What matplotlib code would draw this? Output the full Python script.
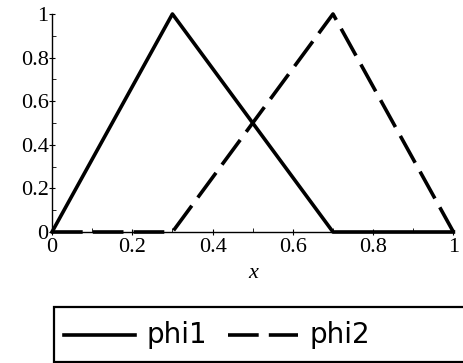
import matplotlib
matplotlib.use("Agg")
import matplotlib.pyplot as plt
from matplotlib.lines import Line2D
from matplotlib.patches import Rectangle
from matplotlib.ticker import MultipleLocator

# hat functions on [0, 1]
x_knots = [0, 0.3, 0.7, 1]
phi1 = [0, 1, 0, 0]
phi2 = [0, 0, 1, 0]
series_names = ["phi1", "phi2"]
x_ticks = [0, 0.2, 0.4, 0.6, 0.8, 1]
y_ticks = [0, 0.2, 0.4, 0.6, 0.8, 1]
tick_labels = ["0", "0.2", "0.4", "0.6", "0.8", "1"]

serif = "Liberation Serif"
lw = 2.6
dash = (8.5, 2.8)

fig = plt.figure(figsize=(4.63, 3.63), dpi=100)
ax = fig.add_axes([0.1123, 0.3609, 0.867, 0.6006])

ax.plot(x_knots, phi1, color="black", lw=lw, clip_on=False, zorder=3)
ax.plot(x_knots, phi2, color="black", lw=lw, dashes=dash,
        clip_on=False, zorder=3)

ax.set_xlim(0, 1)
ax.set_ylim(0, 1)
for side in ("top", "right"):
    ax.spines[side].set_visible(False)
for side in ("left", "bottom"):
    ax.spines[side].set_linewidth(1.0)

ax.set_xticks(x_ticks)
ax.set_xticklabels(tick_labels, fontfamily=serif, fontsize=16)
ax.set_yticks(y_ticks)
ax.set_yticklabels(tick_labels, fontfamily=serif, fontsize=16)
ax.xaxis.set_minor_locator(MultipleLocator(0.1))
ax.yaxis.set_minor_locator(MultipleLocator(0.1))
ax.tick_params(which="major", direction="inout", length=5, width=0.8, pad=0)
ax.tick_params(axis="x", which="major", pad=2)
ax.tick_params(which="minor", direction="in", length=3, width=0.6)

ax.set_xlabel("x", fontfamily=serif, fontstyle="italic", fontsize=16, labelpad=5)

# legend box running off the right edge
box = Rectangle((0.1166, 0.003), 0.95, 0.151, transform=fig.transFigure,
                facecolor="white", edgecolor="black", lw=1.6, clip_on=False)
fig.add_artist(box)
ly = 0.0785
fig.add_artist(Line2D([0.138, 0.292], [ly, ly], transform=fig.transFigure,
                      color="black", lw=lw))
fig.text(0.316, ly, series_names[0], fontsize=20, va="center", ha="left",
         family="DejaVu Sans")
fig.add_artist(Line2D([0.492, 0.644], [ly, ly], transform=fig.transFigure,
                      color="black", lw=lw, dashes=dash))
fig.text(0.668, ly, series_names[1], fontsize=20, va="center", ha="left",
         family="DejaVu Sans")

fig.savefig("out.png", dpi=100)
